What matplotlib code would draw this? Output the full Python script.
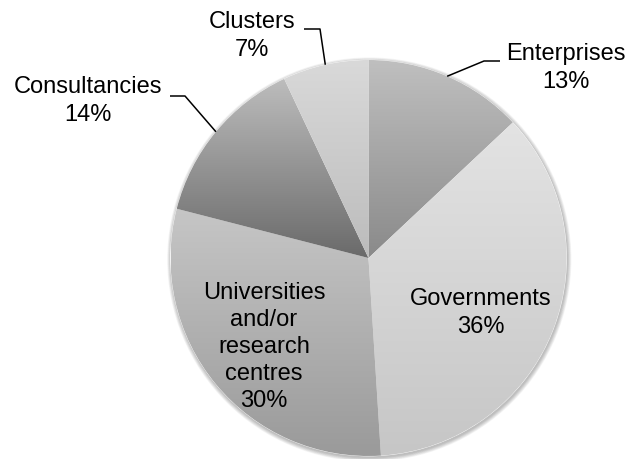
import numpy as np
import matplotlib.pyplot as plt
from matplotlib.colors import LinearSegmentedColormap
from matplotlib.patches import Circle

plt.rcParams['font.family'] = ['Liberation Sans', 'DejaVu Sans']

names = ['Enterprises', 'Governments', 'Universities\nand/or\nresearch\ncentres',
         'Consultancies', 'Clusters']
shares = [13, 36, 30, 14, 7]

# top / bottom shade of each wedge's vertical gradient
top_colors = ['#bfbfbf', '#e3e3e3', '#c6c6c6', '#bdbdbd', '#d9d9d9']
bottom_colors = ['#8a8a8a', '#c6c6c6', '#9a9a9a', '#6a6a6a', '#bcbcbc']

W, H = 629, 459
cx, cy, R = 368.5, 258, 198

# label centre, and (elbow, end) of the leader line; None = inside the pie
label_pos = [(566, 68), (481, 313), (264, 347), (88, 101), (252, 36)]
leaders = [((484, 61), (500, 61)), None, None,
           ((185, 96), (170, 96)), ((320, 29), (304, 29))]

fig = plt.figure(figsize=(W / 100, H / 100), dpi=100)
ax = fig.add_axes([0, 0, 1, 1])

# soft shadow under the pie
for k in range(7):
    ax.add_patch(Circle((cx + 0.8, cy + 1.5), R + 0.5 + k * 0.6, color='black',
                        alpha=0.04, lw=0, zorder=0))
ax.add_patch(Circle((cx, cy), R + 0.3, color='white', lw=0, zorder=0.5))

wedges, _ = ax.pie(shares, center=(cx, cy), radius=R, startangle=270,
                   counterclock=True, wedgeprops=dict(lw=0, alpha=0),
                   frame=True)

grad = np.linspace(0, 1, 256).reshape(-1, 1)
for w, c0, c1 in zip(wedges, top_colors, bottom_colors):
    bb = w.get_path().get_extents()
    cmap = LinearSegmentedColormap.from_list('g', [c0, c1])
    im = ax.imshow(grad, cmap=cmap, extent=(bb.x0, bb.x1, bb.y1, bb.y0),
                   origin='upper', aspect='auto', zorder=1,
                   interpolation='bilinear')
    im.set_clip_path(w)

ax.set_xlim(0, W)
ax.set_ylim(H, 0)
ax.set_aspect('equal')
ax.axis('off')

cum = np.cumsum([0] + shares[:-1])
for name, s, c, pos, ld in zip(names, shares, cum, label_pos, leaders):
    ax.text(pos[0], pos[1], f'{name}\n{s}%', ha='center', va='center',
            multialignment='center', fontsize=17, linespacing=1.3,
            color='#000000', zorder=3)
    if ld is None:
        continue
    mid = 2 * np.pi * (c + s / 2) / sum(shares)
    ax0 = cx + R * np.sin(mid)
    ay0 = cy - R * np.cos(mid)
    (ex, ey), (tx, ty) = ld
    ax.plot([ax0, ex, tx], [ay0, ey, ty], color='black', lw=1.1, zorder=3,
            solid_capstyle='butt')

fig.savefig('out.png', dpi=100, facecolor='white')
